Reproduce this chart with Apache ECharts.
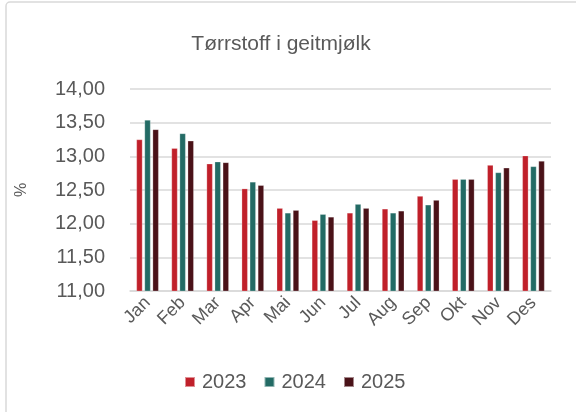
<!DOCTYPE html>
<html>
<head>
<meta charset="utf-8">
<script src="https://cdn.jsdelivr.net/npm/echarts@6/dist/echarts.min.js"></script>
<style>
  html, body { margin: 0; padding: 0; background: #fff; }
  #chart { width: 576px; height: 412px; }
</style>
</head>
<body>
<div id="chart"></div>
<script>
  var months = ['Jan', 'Feb', 'Mar', 'Apr', 'Mai', 'Jun', 'Jul', 'Aug', 'Sep', 'Okt', 'Nov', 'Des']
  var values2023 = [13.25, 13.12, 12.89, 12.52, 12.23, 12.05, 12.16, 12.22, 12.41, 12.66, 12.87, 13.01]
  var values2024 = [13.54, 13.34, 12.92, 12.62, 12.16, 12.14, 12.29, 12.16, 12.28, 12.66, 12.76, 12.85]
  var values2025 = [13.40, 13.23, 12.91, 12.57, 12.20, 12.10, 12.23, 12.19, 12.35, 12.66, 12.83, 12.93]
  var yTicks = [11, 11.5, 12, 12.5, 13, 13.5, 14]

  var textColor = '#595959'
  var font = 'Liberation Sans'

  function bar(name, data, color) {
    return {
      name: name,
      type: 'bar',
      data: data,
      barWidth: 6,
      barGap: '35%',
      itemStyle: { color: color, borderColor: 'rgba(255,255,255,0.5)', borderWidth: 0.5 },
      animation: false
    }
  }

  var chart = echarts.init(document.getElementById('chart'))
  chart.setOption({
    backgroundColor: '#fff',
    title: {
      text: 'Tørrstoff i geitmjølk',
      left: 276,
      textAlign: 'center',
      top: 29,
      textStyle: { color: textColor, fontFamily: font, fontWeight: 'normal', fontSize: 21 }
    },
    graphic: [{
      type: 'rect',
      shape: { x: 6, y: 2, width: 620, height: 460, r: 4 },
      style: { fill: 'none', stroke: '#D9D9D9', lineWidth: 1.5 },
      silent: true
    }],
    legend: {
      top: 367,
      left: 179,
      itemWidth: 10,
      itemHeight: 10,
      itemGap: 17,
      icon: 'rect',
      textStyle: { color: textColor, fontFamily: font, fontSize: 20, padding: [0, 0, 0, 2] },
      data: ['2023', '2024', '2025']
    },
    grid: { left: 130, right: 25, top: 89, bottom: 121 },
    xAxis: {
      type: 'category',
      data: months,
      axisLine: { lineStyle: { color: '#D9D9D9', width: 1.5 } },
      axisTick: { show: false },
      axisLabel: { color: textColor, fontFamily: font, fontSize: 18, rotate: 45, margin: 9 }
    },
    yAxis: {
      type: 'value',
      min: yTicks[0],
      max: yTicks[yTicks.length - 1],
      interval: 0.5,
      name: '%',
      nameLocation: 'middle',
      nameGap: 100,
      nameRotate: 90,
      nameTextStyle: { color: textColor, fontFamily: font, fontSize: 16 },
      axisLine: { show: false },
      axisTick: { show: false },
      axisLabel: {
        color: textColor, fontFamily: font, fontSize: 20, margin: 25,
        formatter: function (v) { return v.toFixed(2).replace('.', ',') }
      },
      splitLine: { lineStyle: { color: '#D9D9D9', width: 1.5 } }
    },
    series: [
      bar('2023', values2023, '#C0202A'),
      bar('2024', values2024, '#236B65'),
      bar('2025', values2025, '#4A1218')
    ]
  })
</script>
</body>
</html>
